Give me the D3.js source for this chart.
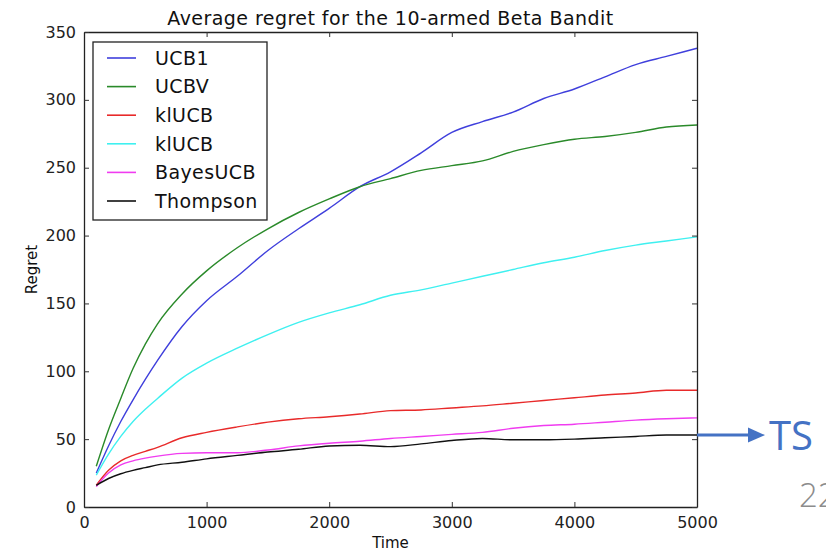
<!DOCTYPE html>
<html>
<head>
<meta charset="utf-8">
<script src="https://cdn.jsdelivr.net/npm/d3@7"></script>
<style>
  body { margin: 0; background: #fff; }
  svg { display: block; font-family: "DejaVu Sans", sans-serif; }
</style>
</head>
<body>
<div id="chart"></div>
<script>
const width = 826;
const height = 549;
const margin = { top: 32, right: 129, bottom: 42, left: 84 };
const innerWidth = width - margin.left - margin.right;
const innerHeight = height - margin.top - margin.bottom;

// time steps and average regret per policy
const times = [100, 200, 300, 400, 500, 600, 800, 1000, 1250, 1500, 1750, 2000,
  2250, 2500, 2750, 3000, 3250, 3500, 3750, 4000, 4250, 4500, 4750, 5000];
const ucb1 = [25, 45, 63, 79, 94, 108, 133, 152, 170, 189, 205, 220,
  236, 247, 261, 276, 284, 291, 301, 308, 317, 326, 332, 338];
const ucbv = [30, 57, 80, 102, 120, 135, 157, 174, 191, 205, 217, 227,
  236, 242, 248, 251.5, 255, 262, 267, 271, 273, 276, 280, 281.5];
const klucbRed = [16, 27, 34, 38, 41, 44, 51, 55, 59, 62.5, 65, 66.5,
  68.5, 71, 71.5, 73, 74.5, 76.5, 78.5, 80.5, 82.5, 84, 86, 86];
const klucbCyan = [23.5, 39, 52, 63, 72, 80, 95, 106, 117, 127, 136, 143,
  149, 156, 160, 165, 170, 175, 180, 184, 189, 193, 196, 199];
const bayesUcb = [15, 25, 31, 34, 36, 37.5, 39.5, 40, 40, 42, 45, 47,
  48.5, 50.5, 52, 53.5, 55, 58, 60, 61, 62.5, 64, 65, 65.7];
const thompson = [16, 21, 24.5, 27, 29, 31, 33, 35.5, 38, 40.5, 42.5, 45,
  45.5, 44.5, 46.5, 49, 50.5, 49.5, 49.5, 50, 51, 52, 53, 53];

const seriesNames = ['UCB1', 'UCBV', 'klUCB', 'klUCB', 'BayesUCB', 'Thompson'];
const seriesValues = [ucb1, ucbv, klucbRed, klucbCyan, bayesUcb, thompson];
const seriesColors = ['#3f3fdc', '#2a8a2a', '#e82a2a', '#3ff0f0', '#f03cf0', '#111111'];

const xTicks = [0, 1000, 2000, 3000, 4000, 5000];
const yTicks = [0, 50, 100, 150, 200, 250, 300, 350];

const series = seriesNames.map((name, i) => ({
  name,
  color: seriesColors[i],
  points: times.map((t, j) => ({ t, v: seriesValues[i][j] }))
}));

const svg = d3.select('#chart').append('svg')
  .attr('width', width)
  .attr('height', height);

const g = svg.append('g')
  .attr('transform', `translate(${margin.left},${margin.top})`);

const x = d3.scaleLinear().domain([0, 5000]).range([0, innerWidth]);
const y = d3.scaleLinear().domain([0, 350]).range([innerHeight, 0]);

// lines
const line = d3.line()
  .x(d => x(d.t))
  .y(d => y(d.v))
  .curve(d3.curveMonotoneX);

g.selectAll('.series')
  .data(series)
  .enter()
  .append('path')
  .attr('class', 'series')
  .attr('d', d => line(d.points))
  .attr('fill', 'none')
  .attr('stroke', d => d.color)
  .attr('stroke-width', 1.4);

// axes, matplotlib classic style: ticks pointing inward on all sides
const tickLen = 5;
const fmt = d3.format('d');
const xAxisBottom = g.append('g').attr('transform', `translate(0,${innerHeight})`)
  .call(d3.axisBottom(x).tickValues(xTicks).tickFormat(fmt).tickSizeInner(-tickLen).tickSizeOuter(0).tickPadding(10));
const xAxisTop = g.append('g')
  .call(d3.axisTop(x).tickValues(xTicks).tickSizeInner(-tickLen).tickSizeOuter(0));
const yAxisLeft = g.append('g')
  .call(d3.axisLeft(y).tickValues(yTicks).tickFormat(fmt).tickSizeInner(-tickLen).tickSizeOuter(0).tickPadding(8));
const yAxisRight = g.append('g').attr('transform', `translate(${innerWidth},0)`)
  .call(d3.axisRight(y).tickValues(yTicks).tickSizeInner(-tickLen).tickSizeOuter(0));

// the top and right spines only carry tick marks
xAxisTop.selectAll('.tick text').remove();
yAxisRight.selectAll('.tick text').remove();

[xAxisBottom, xAxisTop, yAxisLeft, yAxisRight].forEach(a => {
  a.select('.domain').attr('stroke', '#222').attr('stroke-width', 1.3);
  a.selectAll('.tick line').attr('stroke', '#333');
  a.selectAll('.tick text')
    .attr('fill', '#222')
    .style('font-family', '"DejaVu Sans", sans-serif')
    .style('font-size', '16px');
});

// title and axis labels
svg.append('text')
  .attr('x', margin.left + innerWidth / 2)
  .attr('y', 25)
  .attr('text-anchor', 'middle')
  .attr('fill', '#111')
  .style('font-size', '19px')
  .style('letter-spacing', '0.45px')
  .text('Average regret for the 10-armed Beta Bandit');

svg.append('text')
  .attr('transform', `translate(37,${margin.top + innerHeight / 2}) rotate(-90)`)
  .attr('text-anchor', 'middle')
  .attr('fill', '#111')
  .style('font-size', '15px')
  .text('Regret');

svg.append('text')
  .attr('x', margin.left + innerWidth / 2)
  .attr('y', 548)
  .attr('text-anchor', 'middle')
  .attr('fill', '#111')
  .style('font-size', '15px')
  .text('Time');

// legend
const legend = g.append('g').attr('transform', 'translate(9,10)');
legend.append('rect')
  .attr('width', 174)
  .attr('height', 178)
  .attr('fill', '#fff')
  .attr('stroke', '#222')
  .attr('stroke-width', 1.3);

const rows = legend.selectAll('.row')
  .data(series)
  .enter()
  .append('g')
  .attr('transform', (d, i) => `translate(0,${16 + i * 28.6})`);

rows.append('line')
  .attr('x1', 14).attr('x2', 43)
  .attr('stroke', d => d.color)
  .attr('stroke-width', 1.6);

rows.append('text')
  .attr('x', 62)
  .attr('dy', '0.36em')
  .attr('fill', '#111')
  .style('font-size', '19px')
  .style('letter-spacing', '0.4px')
  .text(d => d.name);

// slide annotation: arrow pointing at Thompson sampling
const tsY = y(thompson[thompson.length - 1]) + margin.top;
const blue = '#4472c4';
svg.append('line')
  .attr('x1', margin.left + innerWidth)
  .attr('x2', 750)
  .attr('y1', tsY).attr('y2', tsY)
  .attr('stroke', blue)
  .attr('stroke-width', 3);
svg.append('path')
  .attr('d', `M748,${tsY - 7.5}L765,${tsY}L748,${tsY + 7.5}Z`)
  .attr('fill', blue);
svg.append('text')
  .attr('x', 769)
  .attr('y', tsY + 15)
  .attr('fill', blue)
  .style('font-family', '"Open Sans", sans-serif')
  .style('font-size', '40px')
  .text('TS');

svg.append('text')
  .attr('x', 799)
  .attr('y', 507)
  .attr('fill', '#8c8c8c')
  .style('font-family', '"Open Sans", sans-serif')
  .style('font-weight', 300)
  .style('font-size', '33px')
  .text('22');
</script>
</body>
</html>
